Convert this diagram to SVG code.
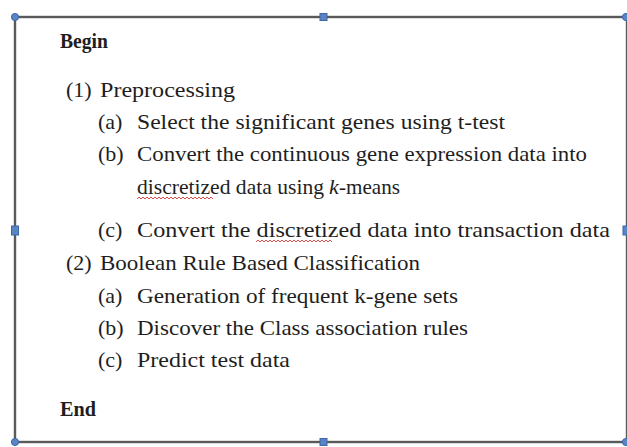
<svg xmlns="http://www.w3.org/2000/svg" width="627" height="447" viewBox="0 0 627 447">
  <style>
    .t { font-family: "Liberation Serif", "DejaVu Serif", serif; font-size: 22px; fill: #1e1e1e; }
    .b { font-weight: bold; font-size: 21px; }
    .i { font-style: italic; }
    .frame { fill: none; stroke: #5a5a5a; stroke-width: 2.4; }
    .h { fill: #5b84c4; stroke: #3d66a8; stroke-width: 1; }
    .sq { fill: none; stroke: #d23a3a; stroke-width: 0.9; }
  </style>
  <rect width="627" height="447" fill="#ffffff"/>

  <!-- text box frame with its sizing handles -->
  <g id="frame">
    <rect class="frame" x="15" y="17" width="612" height="425"/>
    <circle class="h" cx="15" cy="17" r="3.6"/>
    <rect class="h" x="320" y="13.5" width="7" height="7"/>
    <circle class="h" cx="626" cy="17" r="3.6"/>
    <rect class="h" x="11.5" y="226" width="7" height="9"/>
    <rect class="h" x="623" y="226" width="7" height="9"/>
    <circle class="h" cx="15" cy="442" r="3.6"/>
    <rect class="h" x="320" y="438.5" width="7" height="7"/>
    <circle class="h" cx="626" cy="442" r="3.6"/>
  </g>

  <!-- algorithm steps -->
  <g id="steps">
    <text class="t b" x="60" y="48" textLength="48" lengthAdjust="spacingAndGlyphs">Begin</text>

    <text class="t" x="66" y="97">(1)</text>
    <text class="t" x="100" y="97" textLength="135" lengthAdjust="spacingAndGlyphs">Preprocessing</text>

    <text class="t" x="98" y="129">(a)</text>
    <text class="t" x="137" y="129" textLength="368" lengthAdjust="spacingAndGlyphs">Select the significant genes using t-test</text>

    <text class="t" x="98" y="161">(b)</text>
    <text class="t" x="137" y="161" textLength="450" lengthAdjust="spacingAndGlyphs">Convert the continuous gene expression data into</text>
    <text class="t" x="137" y="194" textLength="187" lengthAdjust="spacingAndGlyphs">discretized data using</text>
    <text class="t i" x="329" y="194">k</text>
    <text class="t" x="339" y="194" textLength="61" lengthAdjust="spacingAndGlyphs">-means</text>

    <text class="t" x="98" y="237">(c)</text>
    <text class="t" x="137" y="237" textLength="473" lengthAdjust="spacingAndGlyphs">Convert the discretized data into transaction data</text>

    <text class="t" x="66" y="270">(2)</text>
    <text class="t" x="100" y="270" textLength="320" lengthAdjust="spacingAndGlyphs">Boolean Rule Based Classification</text>

    <text class="t" x="98" y="303">(a)</text>
    <text class="t" x="137" y="303" textLength="321" lengthAdjust="spacingAndGlyphs">Generation of frequent k-gene sets</text>

    <text class="t" x="98" y="335">(b)</text>
    <text class="t" x="137" y="335" textLength="331" lengthAdjust="spacingAndGlyphs">Discover the Class association rules</text>

    <text class="t" x="98" y="367">(c)</text>
    <text class="t" x="137" y="367" textLength="153" lengthAdjust="spacingAndGlyphs">Predict test data</text>

    <text class="t b" x="60" y="416" textLength="36" lengthAdjust="spacingAndGlyphs">End</text>
  </g>

  <!-- spell-check squiggles -->
  <g id="squiggles">
    <path class="sq" d="M137 199 l2 -2 l2 2 l2 -2 l2 2 l2 -2 l2 2 l2 -2 l2 2 l2 -2 l2 2 l2 -2 l2 2 l2 -2 l2 2 l2 -2 l2 2 l2 -2 l2 2 l2 -2 l2 2 l2 -2 l2 2 l2 -2 l2 2 l2 -2 l2 2 l2 -2 l2 2 l2 -2 l2 2 l2 -2 l2 2 l2 -2 l2 2 l2 -2 l2 2 l2 -2 l2 2"/>
    <path class="sq" d="M256 242 l2 -2 l2 2 l2 -2 l2 2 l2 -2 l2 2 l2 -2 l2 2 l2 -2 l2 2 l2 -2 l2 2 l2 -2 l2 2 l2 -2 l2 2 l2 -2 l2 2 l2 -2 l2 2 l2 -2 l2 2 l2 -2 l2 2 l2 -2 l2 2 l2 -2 l2 2 l2 -2 l2 2 l2 -2 l2 2 l2 -2 l2 2 l2 -2 l2 2 l2 -2 l2 2"/>
  </g>
</svg>
